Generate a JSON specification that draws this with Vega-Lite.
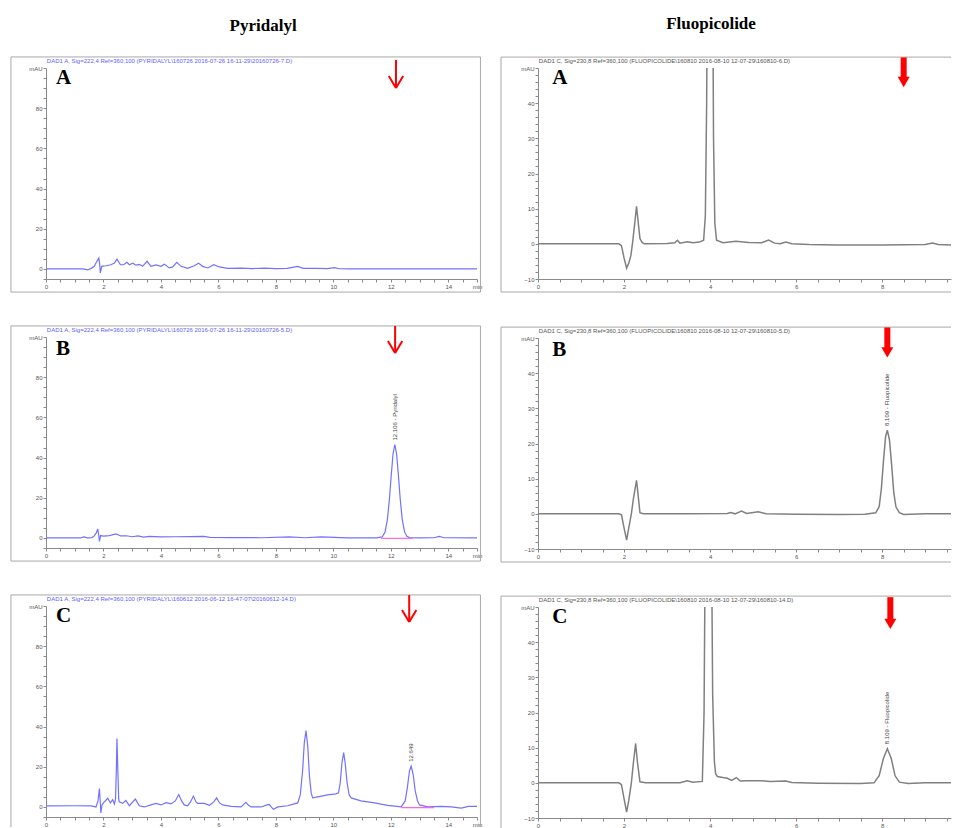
{
"$schema": "https://vega.github.io/schema/vega-lite/v6.json",
"background": "white",
"padding": {"left": 10, "top": 15, "right": 5, "bottom": 0},
"config": {
  "view": {"stroke": null},
  "axis": {"grid": false, "title": null, "domainColor": "#8a8a8a", "tickColor": "#8a8a8a", "labelColor": "#555555", "labelFontSize": 6, "labelFont": "Liberation Sans", "tickSize": 3, "labelPadding": 1, "labelOverlap": false, "labelFlush": false}
},
"datasets": {
  "LA": [{"t":0,"v":0},{"t":1.3,"v":0},{"t":1.45,"v":-0.5},{"t":1.57,"v":0.3},{"t":1.68,"v":1.3},{"t":1.77,"v":3.8},{"t":1.84,"v":5.4},{"t":1.87,"v":2},{"t":1.89,"v":-2},{"t":1.94,"v":1.3},{"t":2.09,"v":1.6},{"t":2.26,"v":2.1},{"t":2.38,"v":2.9},{"t":2.47,"v":4.9},{"t":2.59,"v":2.1},{"t":2.7,"v":2.1},{"t":2.82,"v":3.3},{"t":2.9,"v":2.1},{"t":3.02,"v":2.9},{"t":3.13,"v":1.9},{"t":3.25,"v":2.3},{"t":3.36,"v":1.3},{"t":3.52,"v":3.8},{"t":3.65,"v":1.3},{"t":3.83,"v":2},{"t":4.0,"v":1.3},{"t":4.12,"v":2.4},{"t":4.29,"v":0.5},{"t":4.41,"v":1},{"t":4.55,"v":3.3},{"t":4.7,"v":1.3},{"t":4.93,"v":0.3},{"t":5.16,"v":1.6},{"t":5.31,"v":2.9},{"t":5.45,"v":1.3},{"t":5.63,"v":0.5},{"t":5.84,"v":2.1},{"t":6.03,"v":1},{"t":6.32,"v":0.3},{"t":6.8,"v":0.4},{"t":7.2,"v":0.2},{"t":7.6,"v":0.4},{"t":8.0,"v":0.2},{"t":8.4,"v":0.3},{"t":8.76,"v":1.3},{"t":8.95,"v":0.3},{"t":9.4,"v":0.3},{"t":9.8,"v":0.2},{"t":10.04,"v":0.7},{"t":10.2,"v":0.1},{"t":10.6,"v":0},{"t":11.5,"v":0},{"t":12.5,"v":0},{"t":13.5,"v":0},{"t":15,"v":0}],
  "LB": [{"t":0,"v":0},{"t":1.2,"v":0},{"t":1.31,"v":0.5},{"t":1.45,"v":0},{"t":1.6,"v":0.2},{"t":1.68,"v":1},{"t":1.75,"v":2.5},{"t":1.8,"v":4.5},{"t":1.84,"v":1},{"t":1.86,"v":-1.7},{"t":1.9,"v":1.2},{"t":2.0,"v":0.9},{"t":2.2,"v":1.2},{"t":2.44,"v":2},{"t":2.6,"v":1},{"t":2.8,"v":1.1},{"t":3.0,"v":0.6},{"t":3.2,"v":1},{"t":3.4,"v":0.4},{"t":3.6,"v":0.8},{"t":4.0,"v":0.5},{"t":4.5,"v":0.6},{"t":5.0,"v":0.7},{"t":5.5,"v":0.8},{"t":5.7,"v":0.3},{"t":6.5,"v":0.2},{"t":7.5,"v":0.1},{"t":8.47,"v":0.5},{"t":9.0,"v":0.1},{"t":9.57,"v":0.5},{"t":10.5,"v":0},{"t":11.5,"v":0},{"t":11.7,"v":0.5},{"t":11.8,"v":3},{"t":11.88,"v":9},{"t":11.95,"v":19},{"t":12.02,"v":32},{"t":12.08,"v":42},{"t":12.14,"v":46.5},{"t":12.2,"v":42},{"t":12.26,"v":32},{"t":12.33,"v":19},{"t":12.4,"v":9},{"t":12.48,"v":3},{"t":12.56,"v":0.8},{"t":12.65,"v":0.2},{"t":13.0,"v":0},{"t":13.5,"v":0.1},{"t":13.69,"v":0.8},{"t":13.85,"v":0.1},{"t":15,"v":0}],
  "LC": [{"t":0,"v":0.5},{"t":1.0,"v":0.6},{"t":1.57,"v":0.5},{"t":1.74,"v":0},{"t":1.81,"v":3},{"t":1.86,"v":9.2},{"t":1.89,"v":2},{"t":1.91,"v":-3},{"t":1.95,"v":1},{"t":2.0,"v":2},{"t":2.15,"v":4.3},{"t":2.24,"v":2},{"t":2.32,"v":3.6},{"t":2.38,"v":1.5},{"t":2.42,"v":4},{"t":2.45,"v":20},{"t":2.47,"v":34},{"t":2.5,"v":18},{"t":2.53,"v":4},{"t":2.55,"v":2.6},{"t":2.67,"v":1.8},{"t":2.78,"v":3.2},{"t":2.9,"v":0.6},{"t":3.11,"v":3.9},{"t":3.25,"v":0.6},{"t":3.42,"v":0},{"t":3.65,"v":1},{"t":3.83,"v":1.8},{"t":4.0,"v":1},{"t":4.18,"v":2.1},{"t":4.35,"v":1.5},{"t":4.5,"v":3},{"t":4.62,"v":6.2},{"t":4.72,"v":3},{"t":4.81,"v":1},{"t":4.93,"v":0.6},{"t":5.03,"v":2.5},{"t":5.13,"v":5.4},{"t":5.22,"v":2.5},{"t":5.28,"v":1.8},{"t":5.51,"v":1.8},{"t":5.69,"v":0.8},{"t":5.84,"v":2.5},{"t":5.94,"v":4.5},{"t":6.04,"v":2},{"t":6.15,"v":1},{"t":6.44,"v":0.3},{"t":6.79,"v":0},{"t":6.9,"v":1.5},{"t":6.96,"v":2.3},{"t":7.05,"v":0.8},{"t":7.14,"v":0},{"t":7.48,"v":0},{"t":7.7,"v":1},{"t":7.77,"v":1.3},{"t":7.84,"v":0},{"t":7.91,"v":-1.2},{"t":8.07,"v":0},{"t":8.41,"v":0.6},{"t":8.76,"v":2},{"t":8.85,"v":6},{"t":8.93,"v":18},{"t":8.99,"v":32},{"t":9.05,"v":38},{"t":9.11,"v":30},{"t":9.17,"v":15},{"t":9.23,"v":7},{"t":9.28,"v":4.5},{"t":9.46,"v":5},{"t":9.8,"v":6},{"t":10.09,"v":6.5},{"t":10.18,"v":7},{"t":10.24,"v":12},{"t":10.3,"v":22},{"t":10.36,"v":27},{"t":10.41,"v":22},{"t":10.48,"v":12},{"t":10.55,"v":6},{"t":10.62,"v":4.5},{"t":10.96,"v":3},{"t":11.43,"v":2},{"t":11.89,"v":0.8},{"t":12.36,"v":0.1},{"t":12.5,"v":3},{"t":12.58,"v":10},{"t":12.65,"v":18},{"t":12.71,"v":20.3},{"t":12.78,"v":16},{"t":12.85,"v":8},{"t":12.93,"v":3},{"t":13.0,"v":1},{"t":13.28,"v":0},{"t":13.75,"v":0.3},{"t":14.1,"v":0},{"t":14.45,"v":-0.6},{"t":14.7,"v":0.3},{"t":15,"v":0.3}],
  "RA": [{"t":0,"v":0},{"t":1.88,"v":0},{"t":1.94,"v":-0.5},{"t":2.0,"v":-4},{"t":2.06,"v":-6.9},{"t":2.11,"v":-5.5},{"t":2.16,"v":-3.3},{"t":2.2,"v":0.5},{"t":2.25,"v":6},{"t":2.29,"v":10.7},{"t":2.33,"v":6},{"t":2.37,"v":1.5},{"t":2.42,"v":0.4},{"t":2.47,"v":0},{"t":3.0,"v":0.1},{"t":3.18,"v":0.3},{"t":3.24,"v":1},{"t":3.3,"v":0.2},{"t":3.47,"v":0.6},{"t":3.6,"v":0.3},{"t":3.75,"v":0.5},{"t":3.85,"v":1},{"t":3.89,"v":8},{"t":3.92,"v":40},{"t":3.95,"v":100},{"t":4.0,"v":160},{"t":4.05,"v":100},{"t":4.08,"v":30},{"t":4.11,"v":6},{"t":4.15,"v":1},{"t":4.3,"v":0.3},{"t":4.6,"v":0.7},{"t":4.9,"v":0.4},{"t":5.2,"v":0.3},{"t":5.36,"v":1.1},{"t":5.5,"v":0.2},{"t":5.63,"v":0},{"t":5.76,"v":0.5},{"t":5.9,"v":0},{"t":6.3,"v":-0.2},{"t":6.96,"v":-0.3},{"t":8.0,"v":-0.3},{"t":9.0,"v":-0.2},{"t":9.17,"v":0.2},{"t":9.3,"v":-0.2},{"t":9.6,"v":-0.3}],
  "RB": [{"t":0,"v":0},{"t":1.88,"v":0},{"t":1.94,"v":-0.3},{"t":2.0,"v":-4},{"t":2.06,"v":-7.5},{"t":2.11,"v":-4},{"t":2.17,"v":0},{"t":2.22,"v":4.5},{"t":2.29,"v":9.5},{"t":2.33,"v":5},{"t":2.37,"v":0.3},{"t":2.45,"v":0},{"t":3.5,"v":0},{"t":4.4,"v":0.1},{"t":4.48,"v":0.4},{"t":4.58,"v":0},{"t":4.73,"v":0.8},{"t":4.85,"v":0.1},{"t":5.12,"v":0.6},{"t":5.3,"v":0},{"t":6.0,"v":-0.1},{"t":7.0,"v":-0.2},{"t":7.6,"v":-0.1},{"t":7.85,"v":0.3},{"t":7.93,"v":2},{"t":7.98,"v":7},{"t":8.03,"v":15},{"t":8.08,"v":22},{"t":8.12,"v":23.8},{"t":8.17,"v":21},{"t":8.22,"v":14},{"t":8.27,"v":6},{"t":8.32,"v":2},{"t":8.4,"v":0.3},{"t":8.5,"v":-0.2},{"t":9.0,"v":0},{"t":9.6,"v":0}],
  "RC": [{"t":0,"v":0},{"t":1.88,"v":0},{"t":1.94,"v":-0.5},{"t":2.0,"v":-4.5},{"t":2.06,"v":-8.3},{"t":2.11,"v":-5},{"t":2.17,"v":0},{"t":2.22,"v":6},{"t":2.27,"v":11.2},{"t":2.31,"v":6},{"t":2.37,"v":0.3},{"t":2.5,"v":0},{"t":3.3,"v":0},{"t":3.47,"v":0.6},{"t":3.6,"v":0.2},{"t":3.82,"v":0.4},{"t":3.86,"v":20},{"t":3.9,"v":90},{"t":3.96,"v":160},{"t":4.02,"v":90},{"t":4.06,"v":25},{"t":4.1,"v":6},{"t":4.13,"v":2.5},{"t":4.17,"v":1.8},{"t":4.3,"v":1.5},{"t":4.4,"v":1.3},{"t":4.5,"v":0.7},{"t":4.61,"v":1.5},{"t":4.7,"v":0.5},{"t":4.85,"v":0.6},{"t":5.18,"v":0.6},{"t":5.4,"v":0.4},{"t":5.76,"v":0.5},{"t":5.9,"v":0.1},{"t":6.5,"v":-0.1},{"t":7.5,"v":-0.2},{"t":7.81,"v":0},{"t":7.93,"v":2},{"t":8.03,"v":7},{"t":8.12,"v":9.7},{"t":8.21,"v":7},{"t":8.3,"v":2},{"t":8.4,"v":0.2},{"t":8.6,"v":-0.2},{"t":9.0,"v":0},{"t":9.6,"v":0}]
},
"spacing": 18,
"hconcat": [
 {
  "title": {"text": "Pyridalyl", "font": "Liberation Serif", "fontSize": 17, "fontWeight": "bold", "color": "black", "anchor": "middle", "offset": 21, "dx": 17},
  "spacing": 31,
  "vconcat": [
   {
    "width": 431, "height": 211,
    "resolve": {"axis": {"x": "independent", "y": "independent"}},
    "layer": [
     {"data": {"name": "LA"}, "mark": {"type": "line", "clip": true, "color": "#7272ff", "strokeWidth": 1.2},
      "encoding": {
       "x": {"field": "t", "type": "quantitative", "scale": {"domain": [0, 15], "nice": false, "zero": false}, "axis": {"labelOverlap": false, "values": [0,0.5,1,1.5,2,2.5,3,3.5,4,4.5,5,5.5,6,6.5,7,7.5,8,8.5,9,9.5,10,10.5,11,11.5,12,12.5,13,13.5,14,14.5,15], "labelExpr": "datum.value == 15 ? 'min' : (datum.value % 2 == 0 ? format(datum.value, 'd') : '')"}},
       "y": {"field": "v", "type": "quantitative", "scale": {"domain": [-5, 100], "nice": false, "zero": false}, "axis": {"labelOverlap": false, "values": [-5,0,5,10,15,20,25,30,35,40,45,50,55,60,65,70,75,80,85,90,95,100], "labelExpr": "datum.value == 100 ? 'mAU' : (datum.value % 20 == 0 ? format(datum.value, 'd') : '')"}}}},
     {"data": {"values": [{}]}, "mark": {"type": "rect", "fill": "transparent", "stroke": "#a8a8a8", "strokeWidth": 1},
      "encoding": {"x": {"datum": -1.22, "axis": null, "scale": {"domain": [0, 15], "nice": false, "zero": false}}, "x2": {"datum": 15.12}, "y": {"datum": -11.5, "axis": null, "scale": {"domain": [-5, 100], "nice": false, "zero": false}}, "y2": {"datum": 105.5}}},
     {"data": {"values": [{}]}, "mark": {"type": "text", "text": "DAD1 A, Sig=222,4 Ref=360,100 (PYRIDALYL\\160726 2016-07-26 16-11-29\\20160726-7.D)", "font": "Liberation Sans", "fontSize": 6, "align": "left", "baseline": "middle", "color": "#6060ff"},
      "encoding": {"x": {"datum": 0.03, "axis": null, "scale": {"domain": [0, 15], "nice": false, "zero": false}}, "y": {"datum": 103.5, "axis": null, "scale": {"domain": [-5, 100], "nice": false, "zero": false}}}},
     {"data": {"values": [{}]}, "mark": {"type": "text", "text": "A", "font": "Liberation Serif", "fontSize": 21, "fontWeight": "bold", "align": "left", "baseline": "alphabetic", "color": "black"},
      "encoding": {"x": {"datum": 0.35, "axis": null, "scale": {"domain": [0, 15], "nice": false, "zero": false}}, "y": {"datum": 92, "axis": null, "scale": {"domain": [-5, 100], "nice": false, "zero": false}}}},
     {"data": {"values": [{}]}, "mark": {"type": "rule", "color": "#ff0000", "strokeWidth": 2},
      "encoding": {"x": {"datum": 12.18, "axis": null, "scale": {"domain": [0, 15], "nice": false, "zero": false}}, "y": {"datum": 104, "axis": null, "scale": {"domain": [-5, 100], "nice": false, "zero": false}}, "y2": {"datum": 90}}},
     {"data": {"values": [{}]}, "mark": {"type": "rule", "color": "#ff0000", "strokeWidth": 2},
      "encoding": {"x": {"datum": 11.93, "axis": null, "scale": {"domain": [0, 15], "nice": false, "zero": false}}, "x2": {"datum": 12.18}, "y": {"datum": 96, "axis": null, "scale": {"domain": [-5, 100], "nice": false, "zero": false}}, "y2": {"datum": 90}}},
     {"data": {"values": [{}]}, "mark": {"type": "rule", "color": "#ff0000", "strokeWidth": 2},
      "encoding": {"x": {"datum": 12.43, "axis": null, "scale": {"domain": [0, 15], "nice": false, "zero": false}}, "x2": {"datum": 12.18}, "y": {"datum": 96, "axis": null, "scale": {"domain": [-5, 100], "nice": false, "zero": false}}, "y2": {"datum": 90}}}
    ]
   },
   {
    "width": 431, "height": 211,
    "resolve": {"axis": {"x": "independent", "y": "independent"}},
    "layer": [
     {"data": {"name": "LB"}, "mark": {"type": "line", "clip": true, "color": "#7272ff", "strokeWidth": 1.2},
      "encoding": {
       "x": {"field": "t", "type": "quantitative", "scale": {"domain": [0, 15], "nice": false, "zero": false}, "axis": {"labelOverlap": false, "values": [0,0.5,1,1.5,2,2.5,3,3.5,4,4.5,5,5.5,6,6.5,7,7.5,8,8.5,9,9.5,10,10.5,11,11.5,12,12.5,13,13.5,14,14.5,15], "labelExpr": "datum.value == 15 ? 'min' : (datum.value % 2 == 0 ? format(datum.value, 'd') : '')"}},
       "y": {"field": "v", "type": "quantitative", "scale": {"domain": [-5, 100], "nice": false, "zero": false}, "axis": {"labelOverlap": false, "values": [-5,0,5,10,15,20,25,30,35,40,45,50,55,60,65,70,75,80,85,90,95,100], "labelExpr": "datum.value == 100 ? 'mAU' : (datum.value % 20 == 0 ? format(datum.value, 'd') : '')"}}}},
     {"data": {"values": [{}]}, "mark": {"type": "rule", "color": "#ff66dd", "strokeWidth": 1.2},
      "encoding": {"x": {"datum": 11.66, "axis": null, "scale": {"domain": [0, 15], "nice": false, "zero": false}}, "x2": {"datum": 12.77}, "y": {"datum": -0.2, "axis": null, "scale": {"domain": [-5, 100], "nice": false, "zero": false}}}},
     {"data": {"values": [{}]}, "mark": {"type": "rect", "fill": "transparent", "stroke": "#a8a8a8", "strokeWidth": 1},
      "encoding": {"x": {"datum": -1.22, "axis": null, "scale": {"domain": [0, 15], "nice": false, "zero": false}}, "x2": {"datum": 15.12}, "y": {"datum": -11.5, "axis": null, "scale": {"domain": [-5, 100], "nice": false, "zero": false}}, "y2": {"datum": 105.5}}},
     {"data": {"values": [{}]}, "mark": {"type": "text", "text": "DAD1 A, Sig=222,4 Ref=360,100 (PYRIDALYL\\160726 2016-07-26 16-11-29\\20160726-5.D)", "font": "Liberation Sans", "fontSize": 6, "align": "left", "baseline": "middle", "color": "#6060ff"},
      "encoding": {"x": {"datum": 0.03, "axis": null, "scale": {"domain": [0, 15], "nice": false, "zero": false}}, "y": {"datum": 103.5, "axis": null, "scale": {"domain": [-5, 100], "nice": false, "zero": false}}}},
     {"data": {"values": [{}]}, "mark": {"type": "text", "text": "B", "font": "Liberation Serif", "fontSize": 21, "fontWeight": "bold", "align": "left", "baseline": "alphabetic", "color": "black"},
      "encoding": {"x": {"datum": 0.35, "axis": null, "scale": {"domain": [0, 15], "nice": false, "zero": false}}, "y": {"datum": 91, "axis": null, "scale": {"domain": [-5, 100], "nice": false, "zero": false}}}},
     {"data": {"values": [{}]}, "mark": {"type": "text", "text": "12.106 - Pyridalyl", "font": "Liberation Sans", "fontSize": 6, "angle": 270, "align": "left", "baseline": "middle", "color": "#444444"},
      "encoding": {"x": {"datum": 12.14, "axis": null, "scale": {"domain": [0, 15], "nice": false, "zero": false}}, "y": {"datum": 48.5, "axis": null, "scale": {"domain": [-5, 100], "nice": false, "zero": false}}}},
     {"data": {"values": [{}]}, "mark": {"type": "rule", "color": "#ff0000", "strokeWidth": 2},
      "encoding": {"x": {"datum": 12.15, "axis": null, "scale": {"domain": [0, 15], "nice": false, "zero": false}}, "y": {"datum": 105.5, "axis": null, "scale": {"domain": [-5, 100], "nice": false, "zero": false}}, "y2": {"datum": 92}}},
     {"data": {"values": [{}]}, "mark": {"type": "rule", "color": "#ff0000", "strokeWidth": 2},
      "encoding": {"x": {"datum": 11.9, "axis": null, "scale": {"domain": [0, 15], "nice": false, "zero": false}}, "x2": {"datum": 12.15}, "y": {"datum": 98, "axis": null, "scale": {"domain": [-5, 100], "nice": false, "zero": false}}, "y2": {"datum": 92}}},
     {"data": {"values": [{}]}, "mark": {"type": "rule", "color": "#ff0000", "strokeWidth": 2},
      "encoding": {"x": {"datum": 12.4, "axis": null, "scale": {"domain": [0, 15], "nice": false, "zero": false}}, "x2": {"datum": 12.15}, "y": {"datum": 98, "axis": null, "scale": {"domain": [-5, 100], "nice": false, "zero": false}}, "y2": {"datum": 92}}}
    ]
   },
   {
    "width": 431, "height": 211,
    "resolve": {"axis": {"x": "independent", "y": "independent"}},
    "layer": [
     {"data": {"name": "LC"}, "mark": {"type": "line", "clip": true, "color": "#7272ff", "strokeWidth": 1.2},
      "encoding": {
       "x": {"field": "t", "type": "quantitative", "scale": {"domain": [0, 15], "nice": false, "zero": false}, "axis": {"labelOverlap": false, "values": [0,0.5,1,1.5,2,2.5,3,3.5,4,4.5,5,5.5,6,6.5,7,7.5,8,8.5,9,9.5,10,10.5,11,11.5,12,12.5,13,13.5,14,14.5,15], "labelExpr": "datum.value == 15 ? 'min' : (datum.value % 2 == 0 ? format(datum.value, 'd') : '')"}},
       "y": {"field": "v", "type": "quantitative", "scale": {"domain": [-5, 100], "nice": false, "zero": false}, "axis": {"labelOverlap": false, "values": [-5,0,5,10,15,20,25,30,35,40,45,50,55,60,65,70,75,80,85,90,95,100], "labelExpr": "datum.value == 100 ? 'mAU' : (datum.value % 20 == 0 ? format(datum.value, 'd') : '')"}}}},
     {"data": {"values": [{}]}, "mark": {"type": "rule", "color": "#ff66dd", "strokeWidth": 1.2},
      "encoding": {"x": {"datum": 12.36, "axis": null, "scale": {"domain": [0, 15], "nice": false, "zero": false}}, "x2": {"datum": 13.5}, "y": {"datum": -0.3, "axis": null, "scale": {"domain": [-5, 100], "nice": false, "zero": false}}}},
     {"data": {"values": [{}]}, "mark": {"type": "rule", "color": "#a8a8a8", "strokeWidth": 1},
      "encoding": {"x": {"datum": -1.22, "axis": null, "scale": {"domain": [0, 15], "nice": false, "zero": false}}, "x2": {"datum": 15.12}, "y": {"datum": 105.5, "axis": null, "scale": {"domain": [-5, 100], "nice": false, "zero": false}}}},
     {"data": {"values": [{}]}, "mark": {"type": "rule", "color": "#a8a8a8", "strokeWidth": 1},
      "encoding": {"x": {"datum": -1.22, "axis": null, "scale": {"domain": [0, 15], "nice": false, "zero": false}}, "y": {"datum": -10, "axis": null, "scale": {"domain": [-5, 100], "nice": false, "zero": false}}, "y2": {"datum": 105.5}}},
     {"data": {"values": [{}]}, "mark": {"type": "rule", "color": "#a8a8a8", "strokeWidth": 1},
      "encoding": {"x": {"datum": 15.12, "axis": null, "scale": {"domain": [0, 15], "nice": false, "zero": false}}, "y": {"datum": -10, "axis": null, "scale": {"domain": [-5, 100], "nice": false, "zero": false}}, "y2": {"datum": 105.5}}},
     {"data": {"values": [{}]}, "mark": {"type": "text", "text": "DAD1 A, Sig=222,4 Ref=360,100 (PYRIDALYL\\160612 2016-06-12 16-47-07\\20160612-14.D)", "font": "Liberation Sans", "fontSize": 6, "align": "left", "baseline": "middle", "color": "#6060ff"},
      "encoding": {"x": {"datum": 0.03, "axis": null, "scale": {"domain": [0, 15], "nice": false, "zero": false}}, "y": {"datum": 103.5, "axis": null, "scale": {"domain": [-5, 100], "nice": false, "zero": false}}}},
     {"data": {"values": [{}]}, "mark": {"type": "text", "text": "C", "font": "Liberation Serif", "fontSize": 21, "fontWeight": "bold", "align": "left", "baseline": "alphabetic", "color": "black"},
      "encoding": {"x": {"datum": 0.35, "axis": null, "scale": {"domain": [0, 15], "nice": false, "zero": false}}, "y": {"datum": 92, "axis": null, "scale": {"domain": [-5, 100], "nice": false, "zero": false}}}},
     {"data": {"values": [{}]}, "mark": {"type": "text", "text": "12.649", "font": "Liberation Sans", "fontSize": 6, "angle": 270, "align": "left", "baseline": "middle", "color": "#444444"},
      "encoding": {"x": {"datum": 12.71, "axis": null, "scale": {"domain": [0, 15], "nice": false, "zero": false}}, "y": {"datum": 22.5, "axis": null, "scale": {"domain": [-5, 100], "nice": false, "zero": false}}}},
     {"data": {"values": [{}]}, "mark": {"type": "rule", "color": "#ff0000", "strokeWidth": 2},
      "encoding": {"x": {"datum": 12.64, "axis": null, "scale": {"domain": [0, 15], "nice": false, "zero": false}}, "y": {"datum": 105.5, "axis": null, "scale": {"domain": [-5, 100], "nice": false, "zero": false}}, "y2": {"datum": 92}}},
     {"data": {"values": [{}]}, "mark": {"type": "rule", "color": "#ff0000", "strokeWidth": 2},
      "encoding": {"x": {"datum": 12.39, "axis": null, "scale": {"domain": [0, 15], "nice": false, "zero": false}}, "x2": {"datum": 12.64}, "y": {"datum": 98, "axis": null, "scale": {"domain": [-5, 100], "nice": false, "zero": false}}, "y2": {"datum": 92}}},
     {"data": {"values": [{}]}, "mark": {"type": "rule", "color": "#ff0000", "strokeWidth": 2},
      "encoding": {"x": {"datum": 12.89, "axis": null, "scale": {"domain": [0, 15], "nice": false, "zero": false}}, "x2": {"datum": 12.64}, "y": {"datum": 98, "axis": null, "scale": {"domain": [-5, 100], "nice": false, "zero": false}}, "y2": {"datum": 92}}}
    ]
   }
  ]
 },
 {
  "title": {"text": "Fluopicolide", "font": "Liberation Serif", "fontSize": 17, "fontWeight": "bold", "color": "black", "anchor": "middle", "offset": 21, "dx": -15},
  "spacing": 31,
  "vconcat": [
   {
    "width": 413, "height": 211,
    "resolve": {"axis": {"x": "independent", "y": "independent"}},
    "layer": [
     {"data": {"name": "RA"}, "mark": {"type": "line", "clip": true, "color": "#808080", "strokeWidth": 1.5},
      "encoding": {
       "x": {"field": "t", "type": "quantitative", "scale": {"domain": [0, 9.6], "nice": false, "zero": false}, "axis": {"labelOverlap": false, "values": [0,0.5,1,1.5,2,2.5,3,3.5,4,4.5,5,5.5,6,6.5,7,7.5,8,8.5,9,9.5], "labelExpr": "datum.value % 2 == 0 ? format(datum.value, 'd') : ''"}},
       "y": {"field": "v", "type": "quantitative", "scale": {"domain": [-10, 50], "nice": false, "zero": false}, "axis": {"labelOverlap": false, "values": [-10,-8,-6,-4,-2,0,2,4,6,8,10,12,14,16,18,20,22,24,26,28,30,32,34,36,38,40,42,44,46,48,50], "labelExpr": "datum.value == 50 ? 'mAU' : (datum.value % 10 == 0 ? format(datum.value, 'd') : '')"}}}},
     {"data": {"values": [{}]}, "mark": {"type": "rule", "color": "#a8a8a8", "strokeWidth": 1},
      "encoding": {"x": {"datum": -0.86, "axis": null, "scale": {"domain": [0, 9.6], "nice": false, "zero": false}}, "x2": {"datum": 9.6}, "y": {"datum": 53.1, "axis": null, "scale": {"domain": [-10, 50], "nice": false, "zero": false}}}},
     {"data": {"values": [{}]}, "mark": {"type": "rule", "color": "#a8a8a8", "strokeWidth": 1},
      "encoding": {"x": {"datum": -0.86, "axis": null, "scale": {"domain": [0, 9.6], "nice": false, "zero": false}}, "y": {"datum": -13.7, "axis": null, "scale": {"domain": [-10, 50], "nice": false, "zero": false}}, "y2": {"datum": 53.1}}},
     {"data": {"values": [{}]}, "mark": {"type": "rule", "color": "#a8a8a8", "strokeWidth": 1},
      "encoding": {"x": {"datum": -0.86, "axis": null, "scale": {"domain": [0, 9.6], "nice": false, "zero": false}}, "x2": {"datum": 9.6}, "y": {"datum": -13.7, "axis": null, "scale": {"domain": [-10, 50], "nice": false, "zero": false}}}},
     {"data": {"values": [{}]}, "mark": {"type": "text", "text": "DAD1 C, Sig=230,8 Ref=360,100 (FLUOPICOLIDE\\160810 2016-08-10 12-07-29\\160810-6.D)", "font": "Liberation Sans", "fontSize": 6, "align": "left", "baseline": "middle", "color": "#555555"},
      "encoding": {"x": {"datum": 0.02, "axis": null, "scale": {"domain": [0, 9.6], "nice": false, "zero": false}}, "y": {"datum": 52, "axis": null, "scale": {"domain": [-10, 50], "nice": false, "zero": false}}}},
     {"data": {"values": [{}]}, "mark": {"type": "text", "text": "A", "font": "Liberation Serif", "fontSize": 21, "fontWeight": "bold", "align": "left", "baseline": "alphabetic", "color": "black"},
      "encoding": {"x": {"datum": 0.33, "axis": null, "scale": {"domain": [0, 9.6], "nice": false, "zero": false}}, "y": {"datum": 45.5, "axis": null, "scale": {"domain": [-10, 50], "nice": false, "zero": false}}}},
     {"data": {"values": [{}]}, "mark": {"type": "rule", "color": "#ff0000", "strokeWidth": 6},
      "encoding": {"x": {"datum": 8.5, "axis": null, "scale": {"domain": [0, 9.6], "nice": false, "zero": false}}, "y": {"datum": 53, "axis": null, "scale": {"domain": [-10, 50], "nice": false, "zero": false}}, "y2": {"datum": 46.3}}},
     {"data": {"values": [{}]}, "mark": {"type": "point", "shape": "triangle-down", "filled": true, "color": "#ff0000", "size": 144, "opacity": 1},
      "encoding": {"x": {"datum": 8.5, "axis": null, "scale": {"domain": [0, 9.6], "nice": false, "zero": false}}, "y": {"datum": 46, "axis": null, "scale": {"domain": [-10, 50], "nice": false, "zero": false}}}}
    ]
   },
   {
    "width": 413, "height": 211,
    "resolve": {"axis": {"x": "independent", "y": "independent"}},
    "layer": [
     {"data": {"name": "RB"}, "mark": {"type": "line", "clip": true, "color": "#808080", "strokeWidth": 1.5},
      "encoding": {
       "x": {"field": "t", "type": "quantitative", "scale": {"domain": [0, 9.6], "nice": false, "zero": false}, "axis": {"labelOverlap": false, "values": [0,0.5,1,1.5,2,2.5,3,3.5,4,4.5,5,5.5,6,6.5,7,7.5,8,8.5,9,9.5], "labelExpr": "datum.value % 2 == 0 ? format(datum.value, 'd') : ''"}},
       "y": {"field": "v", "type": "quantitative", "scale": {"domain": [-10, 50], "nice": false, "zero": false}, "axis": {"labelOverlap": false, "values": [-10,-8,-6,-4,-2,0,2,4,6,8,10,12,14,16,18,20,22,24,26,28,30,32,34,36,38,40,42,44,46,48,50], "labelExpr": "datum.value == 50 ? 'mAU' : (datum.value % 10 == 0 ? format(datum.value, 'd') : '')"}}}},
     {"data": {"values": [{}]}, "mark": {"type": "rule", "color": "#a8a8a8", "strokeWidth": 1},
      "encoding": {"x": {"datum": -0.86, "axis": null, "scale": {"domain": [0, 9.6], "nice": false, "zero": false}}, "x2": {"datum": 9.6}, "y": {"datum": 53.1, "axis": null, "scale": {"domain": [-10, 50], "nice": false, "zero": false}}}},
     {"data": {"values": [{}]}, "mark": {"type": "rule", "color": "#a8a8a8", "strokeWidth": 1},
      "encoding": {"x": {"datum": -0.86, "axis": null, "scale": {"domain": [0, 9.6], "nice": false, "zero": false}}, "y": {"datum": -13.7, "axis": null, "scale": {"domain": [-10, 50], "nice": false, "zero": false}}, "y2": {"datum": 53.1}}},
     {"data": {"values": [{}]}, "mark": {"type": "rule", "color": "#a8a8a8", "strokeWidth": 1},
      "encoding": {"x": {"datum": -0.86, "axis": null, "scale": {"domain": [0, 9.6], "nice": false, "zero": false}}, "x2": {"datum": 9.6}, "y": {"datum": -13.7, "axis": null, "scale": {"domain": [-10, 50], "nice": false, "zero": false}}}},
     {"data": {"values": [{}]}, "mark": {"type": "text", "text": "DAD1 C, Sig=230,8 Ref=360,100 (FLUOPICOLIDE\\160810 2016-08-10 12-07-29\\160810-5.D)", "font": "Liberation Sans", "fontSize": 6, "align": "left", "baseline": "middle", "color": "#555555"},
      "encoding": {"x": {"datum": 0.02, "axis": null, "scale": {"domain": [0, 9.6], "nice": false, "zero": false}}, "y": {"datum": 52, "axis": null, "scale": {"domain": [-10, 50], "nice": false, "zero": false}}}},
     {"data": {"values": [{}]}, "mark": {"type": "text", "text": "B", "font": "Liberation Serif", "fontSize": 21, "fontWeight": "bold", "align": "left", "baseline": "alphabetic", "color": "black"},
      "encoding": {"x": {"datum": 0.33, "axis": null, "scale": {"domain": [0, 9.6], "nice": false, "zero": false}}, "y": {"datum": 44.8, "axis": null, "scale": {"domain": [-10, 50], "nice": false, "zero": false}}}},
     {"data": {"values": [{}]}, "mark": {"type": "text", "text": "8.109 - Fluopicolide", "font": "Liberation Sans", "fontSize": 6, "angle": 270, "align": "left", "baseline": "middle", "color": "#444444"},
      "encoding": {"x": {"datum": 8.12, "axis": null, "scale": {"domain": [0, 9.6], "nice": false, "zero": false}}, "y": {"datum": 25, "axis": null, "scale": {"domain": [-10, 50], "nice": false, "zero": false}}}},
     {"data": {"values": [{}]}, "mark": {"type": "rule", "color": "#ff0000", "strokeWidth": 6},
      "encoding": {"x": {"datum": 8.12, "axis": null, "scale": {"domain": [0, 9.6], "nice": false, "zero": false}}, "y": {"datum": 53, "axis": null, "scale": {"domain": [-10, 50], "nice": false, "zero": false}}, "y2": {"datum": 46.5}}},
     {"data": {"values": [{}]}, "mark": {"type": "point", "shape": "triangle-down", "filled": true, "color": "#ff0000", "size": 144, "opacity": 1},
      "encoding": {"x": {"datum": 8.12, "axis": null, "scale": {"domain": [0, 9.6], "nice": false, "zero": false}}, "y": {"datum": 45.9, "axis": null, "scale": {"domain": [-10, 50], "nice": false, "zero": false}}}}
    ]
   },
   {
    "width": 413, "height": 211,
    "resolve": {"axis": {"x": "independent", "y": "independent"}},
    "layer": [
     {"data": {"name": "RC"}, "mark": {"type": "line", "clip": true, "color": "#808080", "strokeWidth": 1.5},
      "encoding": {
       "x": {"field": "t", "type": "quantitative", "scale": {"domain": [0, 9.6], "nice": false, "zero": false}, "axis": {"labelOverlap": false, "values": [0,0.5,1,1.5,2,2.5,3,3.5,4,4.5,5,5.5,6,6.5,7,7.5,8,8.5,9,9.5], "labelExpr": "datum.value % 2 == 0 ? format(datum.value, 'd') : ''"}},
       "y": {"field": "v", "type": "quantitative", "scale": {"domain": [-10, 50], "nice": false, "zero": false}, "axis": {"labelOverlap": false, "values": [-10,-8,-6,-4,-2,0,2,4,6,8,10,12,14,16,18,20,22,24,26,28,30,32,34,36,38,40,42,44,46,48,50], "labelExpr": "datum.value == 50 ? 'mAU' : (datum.value % 10 == 0 ? format(datum.value, 'd') : '')"}}}},
     {"data": {"values": [{}]}, "mark": {"type": "rule", "color": "#a8a8a8", "strokeWidth": 1},
      "encoding": {"x": {"datum": -0.86, "axis": null, "scale": {"domain": [0, 9.6], "nice": false, "zero": false}}, "x2": {"datum": 9.6}, "y": {"datum": 53.1, "axis": null, "scale": {"domain": [-10, 50], "nice": false, "zero": false}}}},
     {"data": {"values": [{}]}, "mark": {"type": "rule", "color": "#a8a8a8", "strokeWidth": 1},
      "encoding": {"x": {"datum": -0.86, "axis": null, "scale": {"domain": [0, 9.6], "nice": false, "zero": false}}, "y": {"datum": -12.84, "axis": null, "scale": {"domain": [-10, 50], "nice": false, "zero": false}}, "y2": {"datum": 53.1}}},
     {"data": {"values": [{}]}, "mark": {"type": "text", "text": "DAD1 C, Sig=230,8 Ref=360,100 (FLUOPICOLIDE\\160810 2016-08-10 12-07-29\\160810-14.D)", "font": "Liberation Sans", "fontSize": 6, "align": "left", "baseline": "middle", "color": "#555555"},
      "encoding": {"x": {"datum": 0.02, "axis": null, "scale": {"domain": [0, 9.6], "nice": false, "zero": false}}, "y": {"datum": 52, "axis": null, "scale": {"domain": [-10, 50], "nice": false, "zero": false}}}},
     {"data": {"values": [{}]}, "mark": {"type": "text", "text": "C", "font": "Liberation Serif", "fontSize": 21, "fontWeight": "bold", "align": "left", "baseline": "alphabetic", "color": "black"},
      "encoding": {"x": {"datum": 0.33, "axis": null, "scale": {"domain": [0, 9.6], "nice": false, "zero": false}}, "y": {"datum": 45.5, "axis": null, "scale": {"domain": [-10, 50], "nice": false, "zero": false}}}},
     {"data": {"values": [{}]}, "mark": {"type": "text", "text": "8.109 - Fluopicolide", "font": "Liberation Sans", "fontSize": 6, "angle": 270, "align": "left", "baseline": "middle", "color": "#444444"},
      "encoding": {"x": {"datum": 8.12, "axis": null, "scale": {"domain": [0, 9.6], "nice": false, "zero": false}}, "y": {"datum": 11, "axis": null, "scale": {"domain": [-10, 50], "nice": false, "zero": false}}}},
     {"data": {"values": [{}]}, "mark": {"type": "rule", "color": "#ff0000", "strokeWidth": 6},
      "encoding": {"x": {"datum": 8.19, "axis": null, "scale": {"domain": [0, 9.6], "nice": false, "zero": false}}, "y": {"datum": 52.8, "axis": null, "scale": {"domain": [-10, 50], "nice": false, "zero": false}}, "y2": {"datum": 46}}},
     {"data": {"values": [{}]}, "mark": {"type": "point", "shape": "triangle-down", "filled": true, "color": "#ff0000", "size": 144, "opacity": 1},
      "encoding": {"x": {"datum": 8.19, "axis": null, "scale": {"domain": [0, 9.6], "nice": false, "zero": false}}, "y": {"datum": 45.2, "axis": null, "scale": {"domain": [-10, 50], "nice": false, "zero": false}}}}
    ]
   }
  ]
 }
]
}
